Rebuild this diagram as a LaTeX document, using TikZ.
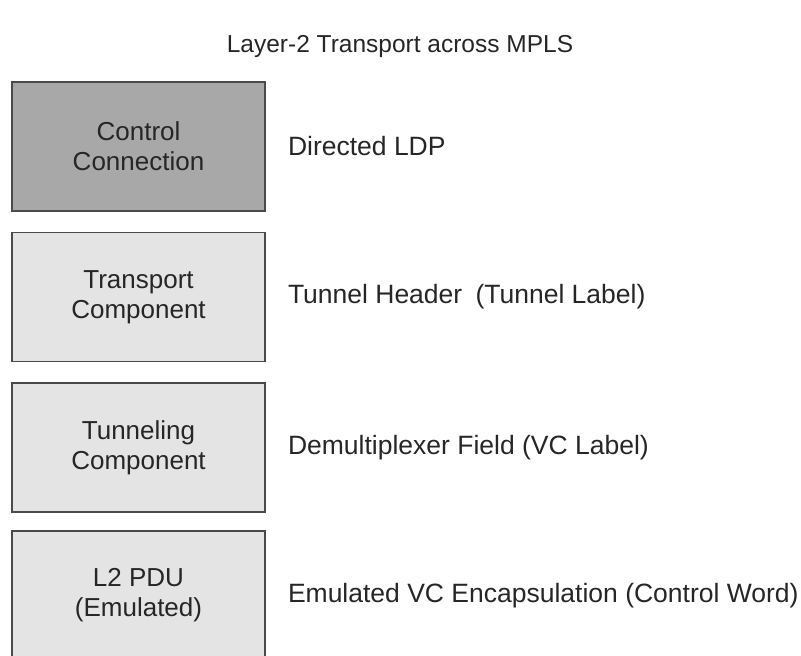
\documentclass[tikz,border=0pt]{standalone}
\usepackage{fontspec}
\setmainfont{Liberation Sans}
\usetikzlibrary{positioning}
\definecolor{darkfill}{HTML}{A8A8A8}
\definecolor{lightfill}{HTML}{E4E4E4}
\definecolor{edge}{HTML}{4A4A4A}
\tikzset{
  layer/.style={draw=edge, line width=1.6pt, minimum width=253pt, minimum height=129pt, inner sep=2pt, align=center, font=\fontsize{26}{30}\selectfont, text=black!85},
  darklayer/.style={layer, fill=darkfill},
  lightlayer/.style={layer, fill=lightfill},
  desc/.style={anchor=west, font=\fontsize{26.5}{31}\selectfont, text=black!85, inner sep=0pt}
}
\begin{document}
\begin{tikzpicture}[x=1pt,y=-1pt]
  \clip (0,0) rectangle (801,656);
  \node[font=\fontsize{24.5}{29}\selectfont, text=black!85] (title) at (400,46) {Layer-2 Transport across MPLS};
  \node[darklayer] (ctrl) at (138.5,146.5) {Control\\Connection};
  \node[lightlayer] (transport) at (138.5,297) {Transport\\Component};
  \node[lightlayer] (tunnel) at (138.5,447.5) {Tunneling\\Component};
  \node[lightlayer] (pdu) at (138.5,595.5) {L2 PDU\\(Emulated)};
  \node[desc, right=22pt of ctrl] (ctrlLbl) {Directed LDP};
  \node[desc, right=22pt of transport] (transportLbl) {Tunnel Header\enspace(Tunnel Label)};
  \node[desc, right=22pt of tunnel] (tunnelLbl) {Demultiplexer Field (VC Label)};
  \node[desc, right=22pt of pdu] (pduLbl) {Emulated VC Encapsulation (Control Word)};
\end{tikzpicture}
\end{document}
